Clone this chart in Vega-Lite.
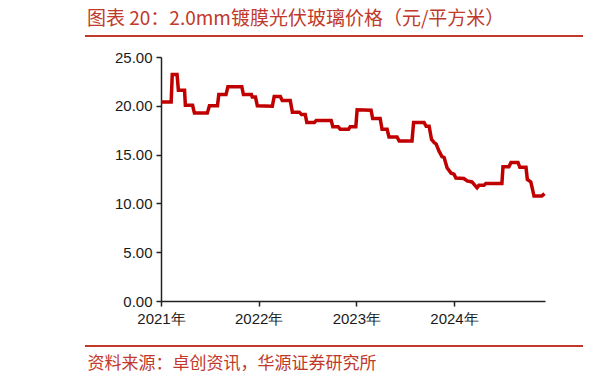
{
  "$schema": "https://vega.github.io/schema/vega-lite/v6.json",
  "autosize": "none",
  "width": 384,
  "height": 244,
  "padding": {"left": 161, "top": 57, "right": 69, "bottom": 84},
  "background": "white",
  "config": {
    "view": {"stroke": null},
    "font": "Liberation Sans"
  },
  "title": {
    "text": "图表 20：2.0mm镀膜光伏玻璃价格（元/平方米）",
    "anchor": "start",
    "frame": "group",
    "dx": -74,
    "offset": 6,
    "font": "Noto Sans CJK SC",
    "fontSize": 19,
    "fontWeight": "normal",
    "color": "#c0392b"
  },
  "datasets": {
    "price": [
      {"date": "2021-01-01", "price": 20.4},
      {"date": "2021-02-08", "price": 20.4},
      {"date": "2021-02-12", "price": 23.2},
      {"date": "2021-03-02", "price": 23.2},
      {"date": "2021-03-07", "price": 21.6},
      {"date": "2021-03-30", "price": 21.6},
      {"date": "2021-04-02", "price": 20.05},
      {"date": "2021-04-29", "price": 20.05},
      {"date": "2021-05-06", "price": 19.25},
      {"date": "2021-06-23", "price": 19.25},
      {"date": "2021-07-01", "price": 20.0},
      {"date": "2021-07-31", "price": 20.0},
      {"date": "2021-08-05", "price": 21.15},
      {"date": "2021-09-01", "price": 21.15},
      {"date": "2021-09-08", "price": 21.95},
      {"date": "2021-10-30", "price": 21.95},
      {"date": "2021-11-05", "price": 21.15},
      {"date": "2021-12-05", "price": 21.15},
      {"date": "2021-12-08", "price": 20.9},
      {"date": "2021-12-20", "price": 20.9},
      {"date": "2021-12-27", "price": 20.0},
      {"date": "2022-02-21", "price": 19.95},
      {"date": "2022-02-28", "price": 20.95},
      {"date": "2022-03-23", "price": 20.95},
      {"date": "2022-03-30", "price": 20.55},
      {"date": "2022-04-29", "price": 20.55},
      {"date": "2022-05-07", "price": 19.35},
      {"date": "2022-06-02", "price": 19.35},
      {"date": "2022-06-10", "price": 19.1},
      {"date": "2022-06-24", "price": 19.1},
      {"date": "2022-06-30", "price": 18.3},
      {"date": "2022-07-28", "price": 18.3},
      {"date": "2022-08-04", "price": 18.5},
      {"date": "2022-09-29", "price": 18.5},
      {"date": "2022-10-05", "price": 17.85},
      {"date": "2022-10-25", "price": 17.85},
      {"date": "2022-11-02", "price": 17.6},
      {"date": "2022-12-03", "price": 17.6},
      {"date": "2022-12-09", "price": 17.85},
      {"date": "2022-12-30", "price": 17.85},
      {"date": "2023-01-04", "price": 19.6},
      {"date": "2023-02-25", "price": 19.55},
      {"date": "2023-03-03", "price": 18.7},
      {"date": "2023-03-31", "price": 18.7},
      {"date": "2023-04-07", "price": 17.6},
      {"date": "2023-04-26", "price": 17.6},
      {"date": "2023-05-03", "price": 16.8},
      {"date": "2023-06-02", "price": 16.8},
      {"date": "2023-06-10", "price": 16.4},
      {"date": "2023-07-28", "price": 16.4},
      {"date": "2023-08-03", "price": 18.3},
      {"date": "2023-09-11", "price": 18.3},
      {"date": "2023-09-19", "price": 17.9},
      {"date": "2023-09-30", "price": 17.9},
      {"date": "2023-10-09", "price": 16.55},
      {"date": "2023-10-20", "price": 16.2},
      {"date": "2023-10-26", "price": 16.1},
      {"date": "2023-11-06", "price": 15.35},
      {"date": "2023-11-17", "price": 14.8},
      {"date": "2023-11-25", "price": 14.7},
      {"date": "2023-12-06", "price": 13.65},
      {"date": "2023-12-21", "price": 13.1},
      {"date": "2024-01-01", "price": 13.0},
      {"date": "2024-01-08", "price": 12.6},
      {"date": "2024-02-07", "price": 12.55},
      {"date": "2024-02-19", "price": 12.3},
      {"date": "2024-03-08", "price": 12.2},
      {"date": "2024-03-27", "price": 11.6},
      {"date": "2024-04-03", "price": 11.85},
      {"date": "2024-04-22", "price": 11.85},
      {"date": "2024-04-29", "price": 12.05},
      {"date": "2024-06-28", "price": 12.05},
      {"date": "2024-07-02", "price": 13.75},
      {"date": "2024-07-24", "price": 13.75},
      {"date": "2024-08-01", "price": 14.2},
      {"date": "2024-08-27", "price": 14.2},
      {"date": "2024-09-03", "price": 13.7},
      {"date": "2024-09-26", "price": 13.7},
      {"date": "2024-10-01", "price": 12.45},
      {"date": "2024-10-14", "price": 12.2},
      {"date": "2024-10-26", "price": 10.75},
      {"date": "2024-11-24", "price": 10.75},
      {"date": "2024-12-04", "price": 11.0}
    ]
  },
  "layer": [
    {
      "data": {"name": "price"},
      "mark": {"type": "line", "color": "#c00000", "strokeWidth": 3.5, "strokeJoin": "miter", "clip": false},
      "encoding": {
        "x": {
          "field": "date",
          "type": "temporal",
          "scale": {"domain": ["2021-01-01", "2024-12-06"]},
          "axis": {
            "values": ["2021-01-01", "2022-01-01", "2023-01-01", "2024-01-01"],
            "format": "%Y年",
            "labelFont": "Liberation Sans",
            "labelFontSize": 15,
            "labelColor": "#1a1a1a",
            "labelFlush": false,
            "labelPadding": 5,
            "tickSize": 5,
            "tickColor": "#222",
            "tickWidth": 1.5,
            "domainColor": "#222",
            "domainWidth": 1.5,
            "grid": false,
            "title": "资料来源：卓创资讯，华源证券研究所",
            "titleFont": "Noto Sans CJK SC",
            "titleFontSize": 17,
            "titleFontWeight": "normal",
            "titleColor": "#c0392b",
            "titleAnchor": "start",
            "titleAlign": "left",
            "titleBaseline": "middle",
            "titleX": -74,
            "titleY": 62
          }
        },
        "y": {
          "field": "price",
          "type": "quantitative",
          "scale": {"domain": [0, 25], "nice": false, "zero": true},
          "axis": {
            "values": [0, 5, 10, 15, 20, 25],
            "format": ".2f",
            "labelFont": "Liberation Sans",
            "labelFontSize": 15,
            "labelColor": "#1a1a1a",
            "labelPadding": 4,
            "tickSize": 5,
            "tickColor": "#222",
            "tickWidth": 1.5,
            "domainColor": "#222",
            "domainWidth": 1.5,
            "grid": false,
            "title": null
          }
        }
      }
    },
    {
      "data": {"values": [{}]},
      "mark": {"type": "rule", "color": "#c0392b", "strokeWidth": 2},
      "encoding": {
        "x": {"value": -76},
        "x2": {"value": 422},
        "y": {"value": -21}
      }
    },
    {
      "data": {"values": [{}]},
      "mark": {"type": "rule", "color": "#c0392b", "strokeWidth": 2},
      "encoding": {
        "x": {"value": -76},
        "x2": {"value": 422},
        "y": {"value": 289}
      }
    }
  ]
}
